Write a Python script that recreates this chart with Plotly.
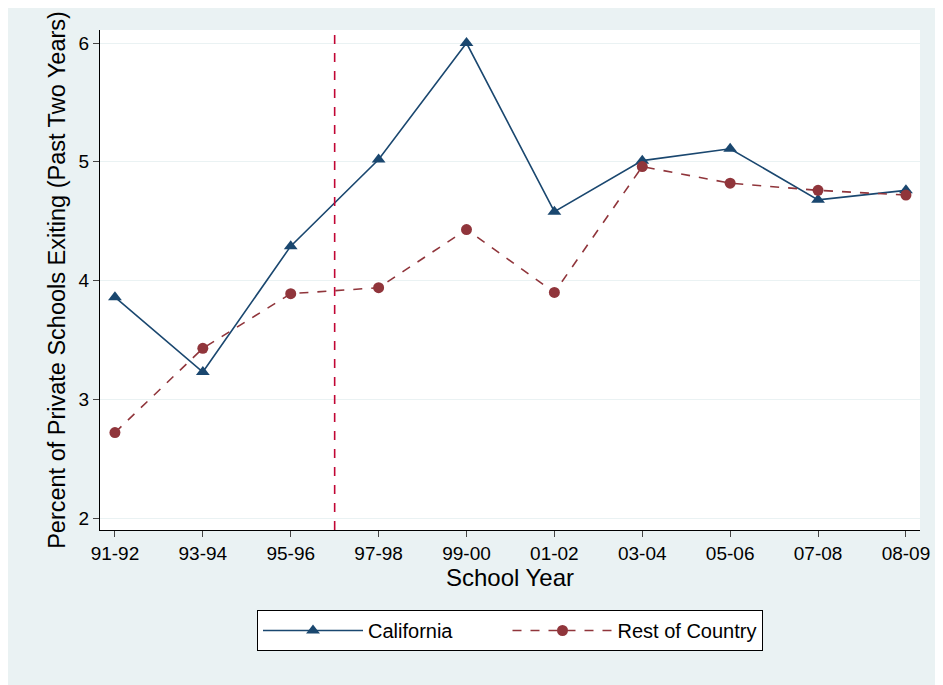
import plotly.graph_objects as go

years = ["91-92", "93-94", "95-96", "97-98", "99-00", "01-02", "03-04", "05-06", "07-08", "08-09"]
california = [3.86, 3.23, 4.29, 5.02, 6.0, 4.58, 5.01, 5.11, 4.68, 4.76]
rest_of_country = [2.72, 3.43, 3.89, 3.94, 4.43, 3.90, 4.96, 4.82, 4.76, 4.72]
y_ticks = [2, 3, 4, 5, 6]

xpos = list(range(len(years)))
fig = go.Figure()
fig.add_trace(go.Scatter(
    x=xpos, y=california, name="California         ", mode="lines+markers",
    line=dict(color="#1A476F", width=1.6),
    marker=dict(symbol="triangle-up", size=12, color="#1A476F"),
))
fig.add_trace(go.Scatter(
    x=xpos, y=rest_of_country, name="Rest of Country", mode="lines+markers",
    line=dict(color="#90353B", width=1.6, dash="dash"),
    marker=dict(symbol="circle", size=11, color="#90353B"),
))
fig.add_vline(x=2.5, line=dict(color="#C10534", width=1.6, dash="dash"))

fig.update_layout(
    width=943, height=685,
    paper_bgcolor="#EAF2F3", plot_bgcolor="white",
    margin=dict(l=92, r=31, t=22, b=163),
    font=dict(family="Liberation Sans, Arial", size=19, color="black"),
    legend=dict(
        orientation="h", x=0.5, xanchor="center", y=-0.16, yanchor="top",
        bgcolor="white", bordercolor="black", borderwidth=1,
        font=dict(size=20), itemwidth=100, tracegroupgap=0,
    ),
)
fig.update_xaxes(
    range=[-0.17, 9.16], tickvals=xpos, ticktext=years,
    showline=True, linecolor="black", ticks="outside", ticklen=6,
    tickfont=dict(size=19), showgrid=False, zeroline=False,
    title=dict(text="School Year", font=dict(size=24), standoff=2),
)
fig.update_yaxes(
    range=[1.9, 6.11], tickvals=y_ticks,
    showline=True, linecolor="black", ticks="outside", ticklen=6,
    tickfont=dict(size=19), gridcolor="#EAF2F3", zeroline=False,
    title=dict(text="Percent of Private Schools Exiting (Past Two Years)",
               font=dict(size=23.5), standoff=6),
)
fig.write_html("out.html")
